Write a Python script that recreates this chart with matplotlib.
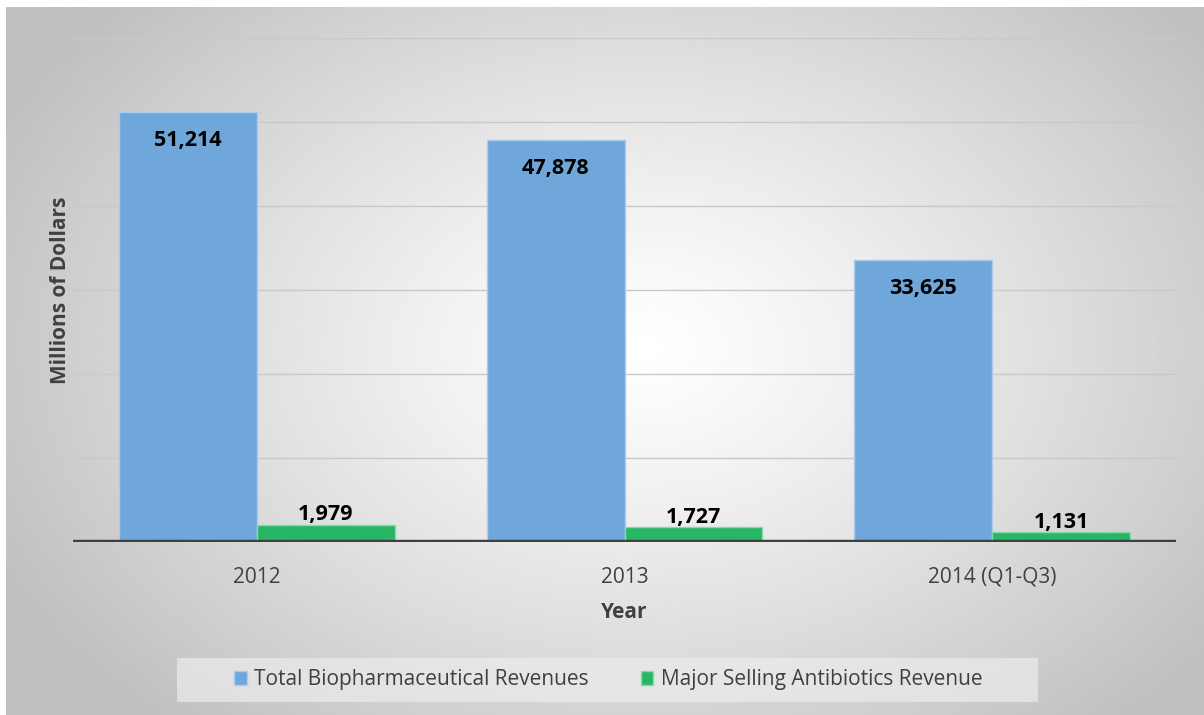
import matplotlib.pyplot as plt
from matplotlib.patches import Rectangle
import numpy as np

years = ['2012', '2013', '2014 (Q1-Q3)']
biopharma = [51214, 47878, 33625]
antibiotics = [1979, 1727, 1131]
series_names = ['Total Biopharmaceutical Revenues', 'Major Selling Antibiotics Revenue']

blue = '#6fa7db'
green = '#27b665'
text_col = '#404040'

plt.rcParams['font.family'] = ['Open Sans', 'DejaVu Sans']

fig = plt.figure(figsize=(12.04, 7.15), dpi=100)

# grey radial background behind the plot
bg = fig.add_axes([6 / 1204, 0, 1 - 6 / 1204, 1 - 7 / 715], zorder=0)
gx, gy = np.meshgrid(np.linspace(0, 1, 400), np.linspace(0, 1, 240))
r = np.sqrt(((gx - 0.53) / 0.60) ** 2 + ((gy - 0.48) / 0.72) ** 2)
shade = 1.0 - 0.25 * np.clip(r, 0, 1) ** 1.2
bg.imshow(shade, cmap='gray', vmin=0, vmax=1, aspect='auto', extent=[0, 1, 0, 1])
bg.axis('off')

ax = fig.add_axes([73 / 1204, 1 - 542 / 715, 1103 / 1204, 504 / 715], zorder=1)
ax.patch.set_alpha(0)

x = np.arange(len(years))
w = 0.375
b1 = ax.bar(x - w / 2, biopharma, w, color=blue, edgecolor='#a9cbec', linewidth=1, label=series_names[0], zorder=3)
b2 = ax.bar(x + w / 2, antibiotics, w, color=green, edgecolor='#8ad9ab', linewidth=1, label=series_names[1], zorder=3)

for rect, v in zip(b1, biopharma):
    ax.annotate(f'{v:,}', (rect.get_x() + rect.get_width() / 2, v), xytext=(0, -20.5),
                textcoords='offset points', ha='center', va='center',
                fontsize=15.5, fontweight='bold', color='black', zorder=5)
for rect, v in zip(b2, antibiotics):
    ax.annotate(f'{v:,}', (rect.get_x() + rect.get_width() / 2, v), xytext=(0, 7.5),
                textcoords='offset points', ha='center', va='center',
                fontsize=15.5, fontweight='bold', color='black', zorder=5)

ax.set_xlim(-0.5, 2.5)
ax.set_ylim(0, 60000)
ax.set_yticks(np.arange(10000, 60001, 10000))
ax.set_yticklabels([])
ax.grid(axis='y', color='#c8c8c8', linewidth=1, zorder=0)
ax.axhline(0, color=text_col, linewidth=3.2, zorder=4)
ax.tick_params(axis='both', length=0)
ax.set_xticks(x)
ax.set_xticklabels(years, fontsize=15, color=text_col)
ax.tick_params(axis='x', pad=18)
for s in ax.spines.values():
    s.set_visible(False)

ax.set_xlabel('Year', fontsize=15, fontweight='bold', color=text_col, labelpad=10)
ax.set_ylabel('Millions of Dollars', fontsize=15, fontweight='bold', color=text_col, labelpad=-2)

# legend band along the bottom
fig.patches.append(Rectangle((177 / 1204, 1 - 702 / 715), 861 / 1204, 44 / 715,
                             transform=fig.transFigure, facecolor='#ececec', alpha=0.7,
                             edgecolor='none', zorder=1))
leg = fig.legend(handles=[b1, b2], loc='center', bbox_to_anchor=(608 / 1204, 1 - 680 / 715),
                 ncol=2, fontsize=15, frameon=False, handlelength=0.62,
                 handleheight=0.62, handletextpad=0.35, columnspacing=2.5,
                 labelcolor=text_col)

fig.savefig('out.png', dpi=100)
